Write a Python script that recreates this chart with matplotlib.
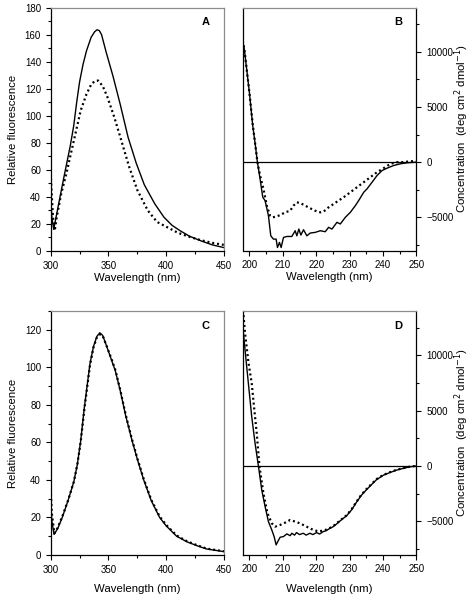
import matplotlib
matplotlib.use("Agg")
import matplotlib.pyplot as plt
from matplotlib.ticker import MultipleLocator

plt.rcParams['font.family'] = ['Liberation Sans', 'DejaVu Sans']

# ---------------- data ----------------
# Panel A (fluorescence)
a_solid_x = [300, 301, 302.6, 306, 312, 317, 320, 322.5, 325, 328, 331, 335, 338, 340, 342, 344, 348, 354,
             360, 367, 374, 381, 390, 398, 405, 412, 420, 430, 440, 450]
a_solid_y = [40, 25, 16, 31, 57, 78, 93, 110, 125, 138, 148, 158, 162, 163.5, 163, 160, 147, 129,
             109, 84, 65, 49, 35, 25, 19, 15, 11, 7.5, 4.5, 2.5]
a_dot_x = [300, 301, 302, 303.5, 305, 309, 313.5, 318, 322, 326, 331, 335, 338, 341, 345, 349, 355,
           361, 368, 375, 384, 392, 401, 410, 420, 430, 440, 450]
a_dot_y = [57, 40, 25, 15, 24, 42, 57, 74, 89, 104, 116, 123, 125.5, 126, 122, 114, 99,
           82, 62, 45, 30, 21.5, 17.5, 13.5, 10.5, 8, 6, 4.5]

# Panel B (CD)
b_solid_x = [198, 198.5, 199.2, 200, 201, 201.8, 202.4, 203.2, 204, 204.7, 205.7, 206.4, 207.2, 208,
             208.4, 209, 209.5, 210.2, 211.2, 212.7, 213.7, 214.2, 214.8, 215.4, 216.2, 217.2,
             218.2, 219.7, 221.2, 222.7, 223.7, 224.7, 226.2, 227.2, 228.7, 230.2, 231.7, 232.7,
             234.2, 235.2, 236.7, 238.2, 239.7, 241.2, 243.2, 245.2, 247.2, 250]
b_solid_y = [11000, 10200, 8400, 6300, 3300, 1500, 0, -1515, -3180, -3480, -4850, -6670, -6970, -6970,
             -7730, -7270, -7730, -6820, -6730, -6730, -6210, -6670, -6060, -6600, -6120, -6670,
             -6420, -6360, -6210, -6300, -5900, -6060, -5450, -5600, -5000, -4545, -3940, -3480,
             -2730, -2420, -1820, -1210, -760, -545, -300, -150, -60, 0]
b_dot_x = [198, 198.5, 199.2, 200, 201, 201.8, 202.4, 203.2, 204.2, 205.2, 206.2, 207, 208.2, 209.2,
           210.7, 212.2, 213.2, 214.2, 215.2, 216.7, 218.2, 219.7, 221.2, 222.2, 223.7, 225.2,
           226.7, 228.2, 230.2, 232.2, 234.2, 236.2, 238.2, 240.2, 242.2, 244.2, 246.2, 248.2, 250]
b_dot_y = [11000, 10200, 8400, 6300, 3400, 1500, 0, -1210, -2420, -3940, -4850, -5000, -4900, -4800,
           -4545, -4400, -3940, -3640, -3700, -3940, -4180, -4400, -4545, -4480, -4090, -3790,
           -3480, -3180, -2730, -2270, -1820, -1360, -910, -545, -150, 0, 0, 90, 60]

# Panel C (fluorescence)
c_solid_x = [300, 301, 302.9, 306, 310, 315, 320, 323, 326, 329, 331.5, 334, 337, 340, 342.5, 345,
             348, 352, 356, 360, 365, 370.4, 375, 380.5, 387, 394.3, 400, 409, 418, 426.4, 435, 450]
c_solid_y = [28, 18, 11, 14, 20, 29, 39, 48, 61, 78, 90, 102, 111, 116.5, 118.4, 117,
             112, 105, 98, 88, 74, 61, 51, 40, 29, 20, 15.5, 10, 7, 5, 3.2, 1.8]
c_dot_x = [300, 301, 303.2, 306, 310, 315, 320, 323, 326, 329, 331.5, 334, 337, 340, 342.8, 345,
           348, 352, 356, 360, 365, 370.4, 375, 380.5, 387, 394.3, 400, 409, 418, 426.4, 435, 450]
c_dot_y = [35, 22, 11.5, 14.5, 20.5, 29, 39, 48, 60.5, 77, 89, 101, 110.5, 116, 117.6, 116.8,
           112, 105.5, 98.5, 88.5, 74.5, 61.5, 51.5, 40.5, 29.5, 20.5, 16, 10.4, 7.3, 5.3, 3.4, 2.0]

# Panel D (CD)
d_solid_x = [198, 198.7, 199.7, 200.7, 201.7, 202.7, 203.7, 204.7, 205.7, 206.7, 207.4, 208, 208.5,
             209.2, 210.2, 211.2, 212.2, 212.7, 213.5, 214.1, 215, 216.1, 217, 218.1, 219, 220.1,
             221, 222.1, 223, 224.1, 225, 226.1, 227, 228.1, 229.1, 230.6, 232, 233.5, 235, 236.5,
             238, 240, 242, 244, 246, 248, 250]
d_solid_y = [12730, 10470, 7460, 4450, 2050, 0, -2170, -3670, -5030, -5780, -6380, -7130, -6830,
             -6440, -6380, -6140, -6300, -6080, -6250, -6020, -6200, -6080, -6250, -6080, -6200, -6020,
             -6150, -5930, -5850, -5630, -5500, -5240, -5000, -4730, -4500, -3960, -3300, -2650, -2160, -1700,
             -1250, -850, -600, -380, -220, -80, 0]
d_dot_x = [198, 198.7, 199.7, 200.7, 201.5, 202.2, 203, 204.2, 205.4, 206.7, 207.7, 209.2, 210.7,
           212.2, 213.7, 215.1, 217.1, 219.1, 220.5, 222.1, 223, 224.1, 225, 226.1, 227, 228.1, 229.1,
           230.6, 232, 233.5, 235, 236.5, 238, 240, 242, 244, 246, 248, 250]
d_dot_y = [14500, 12000, 9400, 7460, 5000, 2950, 0, -2470, -4270, -5180, -5480, -5330, -5120,
           -4880, -5030, -5180, -5480, -5780, -5900, -5850, -5750, -5600, -5450, -5200, -4950, -4700, -4450,
           -3900, -3250, -2600, -2100, -1650, -1200, -820, -570, -350, -200, -60, 0]

# ---------------- figure ----------------
fig = plt.figure(figsize=(4.72, 5.97), dpi=100)

W, H = 472.0, 597.0
def box(l, t, r, b):
    return [l / W, 1 - b / H, (r - l) / W, (b - t) / H]

axA = fig.add_axes(box(50.7, 7.5, 224, 251))
axB = fig.add_axes(box(242.7, 7.5, 416.5, 250.5))
axC = fig.add_axes(box(50.7, 311, 224, 555))
axD = fig.add_axes(box(242.7, 311, 416.5, 554.5))

solid_kw = dict(color='black', lw=1.0, solid_joinstyle='round')
dot_kw = dict(color='black', lw=1.6, linestyle=(0, (0.9, 1.3)), dash_capstyle='butt')

tick_fs = 7
label_fs = 8.2
gray = '#8c8c8c'

def style_common(ax):
    ax.tick_params(which='both', direction='out', labelsize=tick_fs, width=0.8, colors='black')
    ax.tick_params(which='major', length=3.5)
    ax.tick_params(which='minor', length=2.2)
    for s in ax.spines.values():
        s.set_linewidth(0.9)

def fluo(ax, xs, ys, xd, yd, ymax, letter, xpad):
    ax.plot(xs, ys, **solid_kw)
    ax.plot(xd, yd, **dot_kw)
    ax.set_xlim(300, 450)
    ax.set_ylim(0, ymax)
    ax.xaxis.set_major_locator(MultipleLocator(50))
    ax.xaxis.set_minor_locator(MultipleLocator(25))
    ax.yaxis.set_major_locator(MultipleLocator(20))
    ax.yaxis.set_minor_locator(MultipleLocator(10))
    style_common(ax)
    ax.spines['top'].set_color(gray)
    ax.spines['right'].set_color(gray)
    ax.set_xlabel('Wavelength (nm)', fontsize=label_fs, labelpad=xpad)
    ax.set_ylabel('Relative fluorescence', fontsize=label_fs, labelpad=5)
    ax.text(0.895, 0.94, letter, transform=ax.transAxes, ha='center', va='center',
            fontsize=8, fontweight='bold')

def cd(ax, xs, ys, xd, yd, letter, xpad):
    ax.axhline(0, color='black', lw=0.9)
    ax.plot(xs, ys, **solid_kw)
    ax.plot(xd, yd, **dot_kw)
    ax.set_xlim(198, 250)
    ax.set_ylim(-8000, 14000)
    ax.xaxis.set_major_locator(MultipleLocator(10))
    ax.xaxis.set_minor_locator(MultipleLocator(5))
    ax.yaxis.set_major_locator(MultipleLocator(5000))
    ax.yaxis.set_minor_locator(MultipleLocator(2500))
    ax.yaxis.tick_right()
    ax.yaxis.set_label_position('right')
    style_common(ax)
    ax.spines['top'].set_color(gray)
    ax.set_xlabel('Wavelength (nm)', fontsize=label_fs, labelpad=xpad)
    ax.set_ylabel('Concentration  (deg cm$^{2}$ dmol$^{-1}$)', fontsize=label_fs)
    ax.yaxis.set_label_coords(1.205, 0.5)
    ax.text(0.895, 0.94, letter, transform=ax.transAxes, ha='center', va='center',
            fontsize=8, fontweight='bold')

fluo(axA, a_solid_x, a_solid_y, a_dot_x, a_dot_y, 180, 'A', 1.5)
cd(axB, b_solid_x, b_solid_y, b_dot_x, b_dot_y, 'B', 1.5)
fluo(axC, c_solid_x, c_solid_y, c_dot_x, c_dot_y, 130, 'C', 7)
cd(axD, d_solid_x, d_solid_y, d_dot_x, d_dot_y, 'D', 7)

fig.savefig('out.png', dpi=100)
